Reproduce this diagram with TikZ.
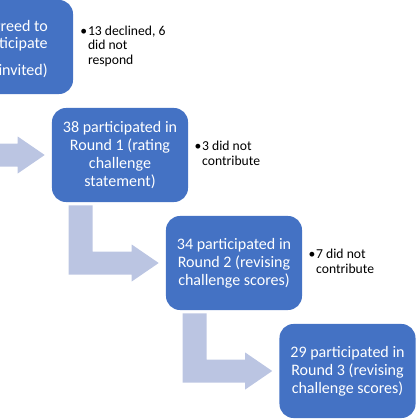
\documentclass[tikz,border=0pt]{standalone}
\usepackage{fontspec}
\setmainfont{Carlito}
\usetikzlibrary{calc,positioning}
\definecolor{BoxBlue}{RGB}{68,114,196}
\definecolor{FlowBlue}{RGB}{187,197,226}

\begin{document}
\begin{tikzpicture}[x=0.025cm, y=-0.025cm,
		stage/.style={fill=BoxBlue, rounded corners=0.35cm, minimum width=3.4cm,
			minimum height=2.35cm, inner sep=0pt, align=center, text=white,
			font=\fontsize{11.4}{12.7}\selectfont},
		note/.style={inner sep=0pt, font=\fontsize{9.7}{10.4}\selectfont},
		flow/.style={fill=FlowBlue}]
	\useasboundingbox (0,0) rectangle (420,420);
	\clip (0,0) rectangle (420,420);
	% stages
	\node[stage] (box0) at (5,47) {};
	\node[anchor=east, align=right, inner sep=0pt, text=white,
		font=\fontsize{11.4}{12.7}\selectfont] (lbl0) at (48,49)
		{agreed to\\participate\hspace{4.2pt}\\[6.4pt]invited)\hspace{3.5pt}};
	\node[stage] (box1) at (120,155) {38 participated in\\Round 1 (rating\\challenge\\statement)};
	\node[stage] (box2) at (234,263) {34 participated in\\Round 2 (revising\\challenge scores)};
	\node[stage] (box3) at (347.5,371) {29 participated in\\Round 3 (revising\\challenge scores)};
	% drop-outs
	\node[note, right=0.17cm of box0] (note0)
		{\begin{tabular}{@{}l@{\hspace{0.6pt}}l@{}}•&13 declined, 6\\&did not\\&respond\end{tabular}};
	\node[note, right=0.15cm of box1] (note1)
		{\begin{tabular}{@{}l@{\hspace{0.6pt}}l@{}}•&3 did not\\&contribute\end{tabular}};
	\node[note, right=0.15cm of box2] (note2)
		{\begin{tabular}{@{}l@{\hspace{0.6pt}}l@{}}•&7 did not\\&contribute\end{tabular}};
	% bent arrows
	\foreach \from/\to in {box0/box1, box1/box2, box2/box3}
	\fill[flow] ($(\from.south west)+(17,3)$) -- ++(24,0)
		|- ($(\to.west)+(-34,-11.5)$) -- ++(0,-7) -- ($(\to.west)+(-7,0)$)
		-- ++(-27,18.5) -- ++(0,-7) -| ($(\from.south west)+(17,3)$) -- cycle;
\end{tikzpicture}
\end{document}
